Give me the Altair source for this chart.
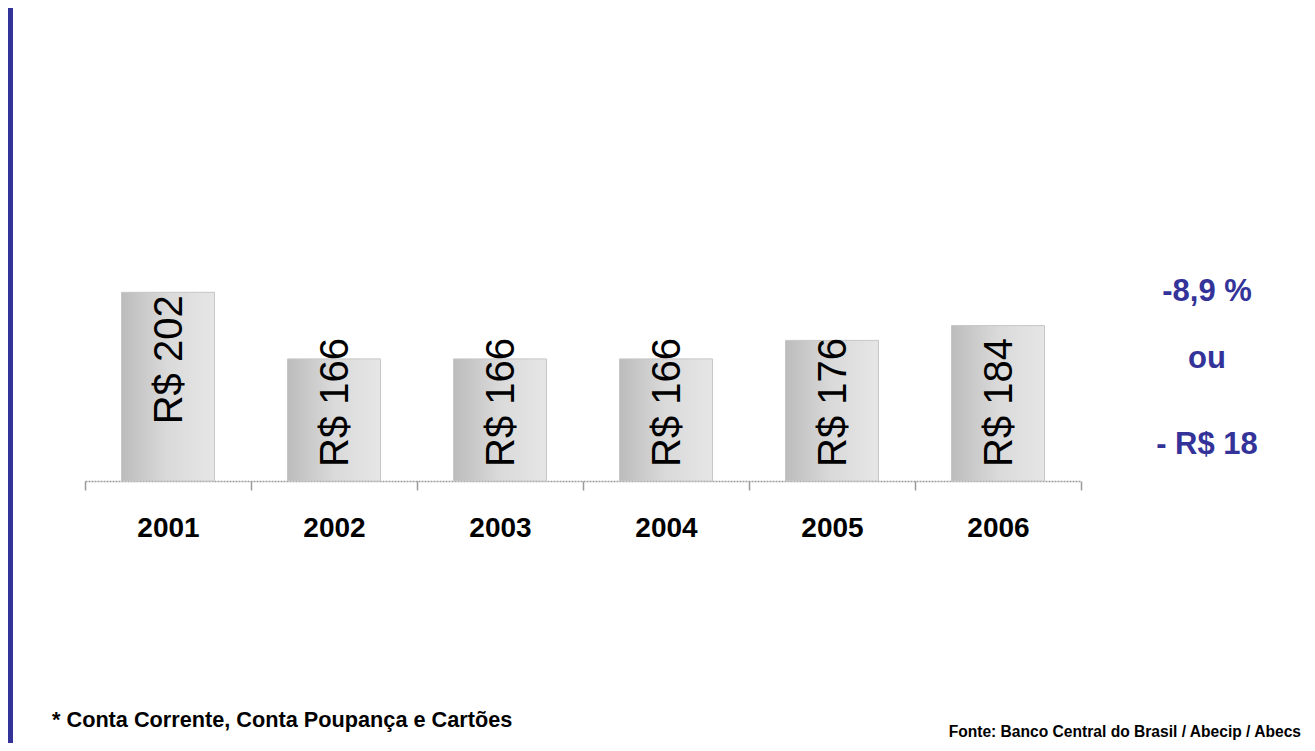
import altair as alt
import pandas as pd

# ---- data ----
years = ["2001", "2002", "2003", "2004", "2005", "2006"]
values = [202, 166, 166, 166, 176, 184]
labels = ["R$ 202", "R$ 166", "R$ 166", "R$ 166", "R$ 176", "R$ 184"]
side_texts = ["-8,9 %", "ou", "- R$ 18"]
footnote = "* Conta Corrente, Conta Poupança e Cartões"
source_note = "Fonte: Banco Central do Brasil / Abecip / Abecs"

BLUE = "#333399"
SANS = "'Liberation Sans', Arial, sans-serif"

df = pd.DataFrame({"year": years, "value": values, "label": labels})

x_enc = alt.X(
    "year:N",
    sort=years,
    title=None,
    scale=alt.Scale(paddingInner=0, paddingOuter=0),
    axis=alt.Axis(
        labelAngle=0,
        labelFont=SANS,
        labelFontSize=28,
        labelFontWeight="bold",
        labelColor="black",
        labelPadding=24,
        domainColor="#9a9a9a",
        domainWidth=1.5,
        domainDash=[2, 1],
        tickColor="#9a9a9a",
        tickWidth=1.5,
        tickSize=9,
        tickBand="extent",
        grid=False,
    ),
)
y_scale = alt.Scale(domain=[100, 300])

base = alt.Chart(df)

bars = base.mark_bar(
    width=alt.RelativeBandSize(0.56),
    color=alt.Gradient(
        gradient="linear",
        stops=[
            alt.GradientStop(color="#bcbcbc", offset=0),
            alt.GradientStop(color="#dadada", offset=0.5),
            alt.GradientStop(color="#e6e6e6", offset=1),
        ],
        x1=0, x2=1, y1=0, y2=0,
    ),
    stroke="#c6c6c6",
    strokeWidth=1,
).encode(
    x=x_enc,
    y=alt.Y("value:Q", scale=y_scale, axis=None),
    y2=alt.datum(100),
)

# labels that fit: anchored at the top of the bar
top_labels = base.transform_filter("datum.value >= 200").mark_text(
    angle=270, align="right", baseline="middle", dx=-3, dy=2,
    font=SANS, fontSize=40, color="black",
).encode(x=x_enc, y=alt.Y("value:Q", scale=y_scale, axis=None), text="label:N")

# labels that do not fit: anchored at the base of the bar
base_labels = base.transform_filter("datum.value < 200").mark_text(
    angle=270, align="left", baseline="middle", dx=14, dy=2,
    font=SANS, fontSize=40, color="black",
).encode(x=x_enc, y=alt.datum(100), text="label:N")

one = pd.DataFrame({"k": [0]})


def note(text, x, y, size, color="black", align="center"):
    return alt.Chart(one).mark_text(
        text=text, align=align, baseline="alphabetic",
        font=SANS, fontSize=size, fontWeight="bold", color=color,
    ).encode(x=alt.value(x), y=alt.value(y))


side1 = note(side_texts[0], 1122, 190, 31, BLUE)
side2 = note(side_texts[1], 1122, 257, 31, BLUE)
side3 = note(side_texts[2], 1122, 343, 31, BLUE)
foot = note(footnote, -33, 616, 21.7, align="left")
src = note(source_note, 1216, 626, 15.6, align="right")

left_band = alt.Chart(one).mark_rect(color=BLUE).encode(
    x=alt.value(-77), x2=alt.value(-72), y=alt.value(-103), y2=alt.value(632)
)

chart = alt.layer(
    left_band, bars, top_labels, base_labels, side1, side2, side3, foot, src
).properties(
    width=996,
    height=370,
    autosize=alt.AutoSizeParams(type="none"),
    padding={"left": 77, "top": 103, "right": 226, "bottom": 262},
    background="white",
).configure_view(stroke=None)

chart.save("out.html", embed_options={"renderer": "svg", "actions": False})
